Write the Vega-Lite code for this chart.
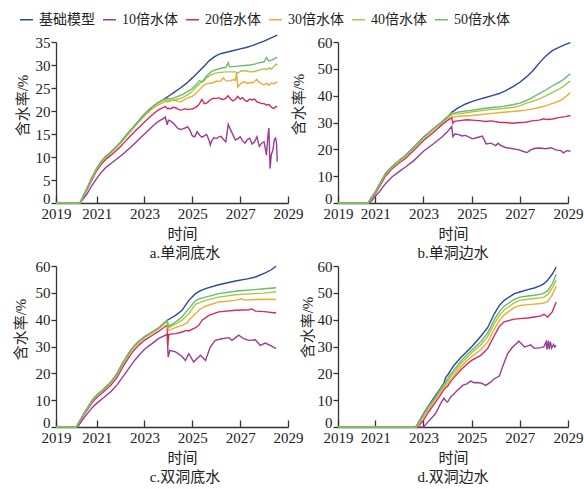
{
"$schema": "https://vega.github.io/schema/vega-lite/v6.json",
"autosize": {"type": "pad"},
"padding": {"left": 12, "top": 12, "right": 5, "bottom": 5},
"background": "white",
"config": {
  "view": {"stroke": null},
  "font": "Liberation Serif, Noto Sans CJK SC",
  "axis": {"grid": false, "domainColor": "#333", "domainWidth": 1.3, "tickColor": "#333", "tickWidth": 1.3, "labelFont": "Liberation Serif, Noto Sans CJK SC", "labelFontSize": 15, "labelColor": "#222", "titleFont": "Liberation Serif, Noto Sans CJK SC", "titleFontSize": 15, "titleFontWeight": "normal", "titleColor": "#222"},
  "axisX": {"tickSize": -7, "labelPadding": 10, "titlePadding": 5, "labelFlush": false},
  "axisY": {"tickSize": 5, "labelPadding": 1},
  "title": {"font": "Liberation Serif, Noto Sans CJK SC", "fontSize": 15, "fontWeight": "normal", "orient": "bottom", "frame": "group", "anchor": "middle", "offset": 5, "color": "#222"},
  "legend": {"symbolType": "stroke", "symbolSize": 170, "symbolStrokeWidth": 1.5, "labelFont": "Liberation Serif, Noto Sans CJK SC", "labelFontSize": 14, "labelOffset": 5, "columnPadding": 4, "labelColor": "#222"}
},
"datasets": {
"a": [
{"t":2019.3,"基础模型":0,"10倍水体":0,"20倍水体":0,"30倍水体":0,"40倍水体":0,"50倍水体":0},
{"t":2020.3,"基础模型":0,"10倍水体":0,"20倍水体":0,"30倍水体":0,"40倍水体":0,"50倍水体":0},
{"t":2020.6,"基础模型":3.2,"10倍水体":2.0,"20倍水体":2.9,"30倍水体":3.1,"40倍水体":3.2,"50倍水体":3.2},
{"t":2020.8,"基础模型":5.5,"10倍水体":3.8,"20倍水体":5.0,"30倍水体":5.3,"40倍水体":5.5,"50倍水体":5.5},
{"t":2021.0,"基础模型":7.5,"10倍水体":5.3,"20倍水体":7.0,"30倍水体":7.3,"40倍水体":7.5,"50倍水体":7.5},
{"t":2021.2,"基础模型":9.1,"10倍水体":6.7,"20倍水体":8.5,"30倍水体":8.9,"40倍水体":9.1,"50倍水体":9.1},
{"t":2021.4,"基础模型":10.2,"10倍水体":7.8,"20倍水体":9.6,"30倍水体":10.0,"40倍水体":10.2,"50倍水体":10.2},
{"t":2021.6,"基础模型":11.1,"10倍水体":8.6,"20倍水体":10.4,"30倍水体":10.9,"40倍水体":11.1,"50倍水体":11.1},
{"t":2021.8,"基础模型":12.1,"10倍水体":9.4,"20倍水体":11.3,"30倍水体":11.9,"40倍水体":12.1,"50倍水体":12.1},
{"t":2022.0,"基础模型":13.2,"10倍水体":10.2,"20倍水体":12.3,"30倍水体":13.0,"40倍水体":13.2,"50倍水体":13.2},
{"t":2022.2,"基础模型":14.5,"10倍水体":11.1,"20倍水体":13.4,"30倍水体":14.2,"40倍水体":14.4,"50倍水体":14.5},
{"t":2022.4,"基础模型":15.7,"10倍水体":12.0,"20倍水体":14.5,"30倍水体":15.4,"40倍水体":15.6,"50倍水体":15.7},
{"t":2022.6,"基础模型":16.9,"10倍水体":13.0,"20倍水体":15.6,"30倍水体":16.6,"40倍水体":16.8,"50倍水体":16.9},
{"t":2022.8,"基础模型":18.1,"10倍水体":14.0,"20倍水体":16.6,"30倍水体":17.8,"40倍水体":18.0,"50倍水体":18.1},
{"t":2023.0,"基础模型":19.3,"10倍水体":15.0,"20倍水体":17.6,"30倍水体":18.9,"40倍水体":19.2,"50倍水体":19.3},
{"t":2023.2,"基础模型":20.3,"10倍水体":16.0,"20倍水体":18.6,"30倍水体":19.9,"40倍水体":20.2,"50倍水体":20.3},
{"t":2023.4,"基础模型":21.2,"10倍水体":17.0,"20倍水体":19.5,"30倍水体":20.8,"40倍水体":21.1,"50倍水体":21.2},
{"t":2023.6,"基础模型":21.9,"10倍水体":17.8,"20倍水体":20.3,"30倍水体":21.4,"40倍水体":21.8,"50倍水体":21.9},
{"t":2023.8,"基础模型":22.5,"10倍水体":18.4,"20倍水体":20.8,"30倍水体":21.9,"40倍水体":22.3,"50倍水体":22.5},
{"t":2023.87,"基础模型":22.8,"10倍水体":18.7,"20倍水体":21.0,"30倍水体":22.0,"40倍水体":22.4,"50倍水体":22.6},
{"t":2023.95,"10倍水体":17.0,"20倍水体":20.5},
{"t":2024.0,"基础模型":23.2,"10倍水体":18.0,"20倍水体":20.6,"30倍水体":22.0,"40倍水体":22.4,"50倍水体":22.7},
{"t":2024.1,"10倍水体":17.8,"20倍水体":20.5,"30倍水体":22.2},
{"t":2024.2,"10倍水体":17.4,"20倍水体":20.8,"30倍水体":22.5,"40倍水体":22.3,"50倍水体":22.8},
{"t":2024.25,"基础模型":24.1},
{"t":2024.3,"10倍水体":16.8,"20倍水体":20.7,"30倍水体":22.3},
{"t":2024.4,"10倍水体":16.2,"20倍水体":20.4,"30倍水体":22.1,"40倍水体":22.6,"50倍水体":23.2},
{"t":2024.5,"基础模型":25.0,"10倍水体":16.0,"20倍水体":20.2,"30倍水体":22.0},
{"t":2024.6,"10倍水体":16.1,"20倍水体":20.3,"30倍水体":22.2,"40倍水体":22.9,"50倍水体":23.6},
{"t":2024.7,"10倍水体":16.3,"20倍水体":20.5,"30倍水体":22.6},
{"t":2024.75,"基础模型":26.0},
{"t":2024.8,"10倍水体":16.6,"20倍水体":20.3,"30倍水体":22.8,"40倍水体":23.5,"50倍水体":24.2},
{"t":2024.9,"10倍水体":15.8,"20倍水体":20.4,"30倍水体":23.0},
{"t":2025.0,"基础模型":27.2,"10倍水体":14.6,"20倍水体":20.4,"30倍水体":23.2,"40倍水体":24.3,"50倍水体":24.9},
{"t":2025.1,"10倍水体":14.4,"20倍水体":20.7,"30倍水体":23.6},
{"t":2025.2,"10倍水体":15.5,"20倍水体":21.0,"30倍水体":24.2,"40倍水体":25.4,"50倍水体":25.9},
{"t":2025.25,"基础模型":28.5},
{"t":2025.3,"10倍水体":14.8,"20倍水体":21.6,"30倍水体":24.6,"50倍水体":26.6},
{"t":2025.4,"10倍水体":14.3,"20倍水体":22.5,"30倍水体":25.2,"40倍水体":26.4,"50倍水体":26.3},
{"t":2025.5,"基础模型":29.8,"10倍水体":14.6,"20倍水体":21.6,"30倍水体":25.7,"40倍水体":26.6},
{"t":2025.6,"10倍水体":14.9,"20倍水体":21.7,"30倍水体":25.9,"40倍水体":27.2,"50倍水体":27.6},
{"t":2025.7,"基础模型":30.9,"10倍水体":13.6,"20倍水体":22.2,"30倍水体":26.0},
{"t":2025.75,"10倍水体":12.6},
{"t":2025.8,"10倍水体":13.4,"20倍水体":22.6,"30倍水体":26.1,"40倍水体":27.9,"50倍水体":28.6},
{"t":2025.9,"基础模型":31.7,"10倍水体":14.2,"20倍水体":22.8,"30倍水体":26.2},
{"t":2026.0,"10倍水体":14.0,"20倍水体":22.7,"30倍水体":26.5,"40倍水体":28.3,"50倍水体":29.0},
{"t":2026.1,"基础模型":32.3,"10倍水体":14.3,"20倍水体":22.9,"30倍水体":26.4},
{"t":2026.2,"10倍水体":14.5,"20倍水体":22.6,"30倍水体":26.6,"40倍水体":28.4,"50倍水体":29.3},
{"t":2026.3,"基础模型":32.6,"10倍水体":13.8,"20倍水体":22.5,"30倍水体":27.2},
{"t":2026.4,"10倍水体":13.3,"20倍水体":22.8,"30倍水体":26.6,"40倍水体":28.5,"50倍水体":29.5},
{"t":2026.5,"10倍水体":17.1,"20倍水体":23.3,"30倍水体":26.5,"50倍水体":30.5},
{"t":2026.55,"50倍水体":29.6},
{"t":2026.6,"基础模型":33.0,"10倍水体":15.9,"20倍水体":22.6,"30倍水体":26.6,"40倍水体":28.5},
{"t":2026.7,"10倍水体":14.8,"20倍水体":22.2,"30倍水体":26.8},
{"t":2026.8,"10倍水体":13.7,"20倍水体":22.5,"30倍水体":26.7,"40倍水体":28.5,"50倍水体":29.7},
{"t":2026.85,"30倍水体":28.3},
{"t":2026.9,"10倍水体":14.0,"20倍水体":23.2,"30倍水体":25.2,"40倍水体":28.2},
{"t":2027.0,"基础模型":33.5,"10倍水体":14.4,"20倍水体":22.6,"30倍水体":25.8,"40倍水体":28.6,"50倍水体":29.8},
{"t":2027.1,"10倍水体":13.5,"20倍水体":22.9,"30倍水体":26.2},
{"t":2027.2,"10倍水体":13.0,"20倍水体":22.3,"30倍水体":26.3,"40倍水体":28.8,"50倍水体":29.9},
{"t":2027.25,"基础模型":33.8},
{"t":2027.3,"10倍水体":13.8,"20倍水体":22.1,"30倍水体":26.0},
{"t":2027.4,"10倍水体":14.1,"20倍水体":22.6,"30倍水体":26.2,"40倍水体":28.5,"50倍水体":30.0},
{"t":2027.5,"基础模型":34.2,"10倍水体":12.8,"20倍水体":22.4,"30倍水体":26.1},
{"t":2027.6,"10倍水体":13.3,"20倍水体":22.6,"30倍水体":26.4,"40倍水体":28.6,"50倍水体":30.2},
{"t":2027.7,"10倍水体":14.4,"20倍水体":22.0,"30倍水体":26.9},
{"t":2027.75,"基础模型":34.7},
{"t":2027.8,"10倍水体":12.3,"20倍水体":21.8,"30倍水体":26.2,"40倍水体":28.9,"50倍水体":30.5},
{"t":2027.9,"10倍水体":13.0,"20倍水体":21.6,"30倍水体":25.9},
{"t":2028.0,"基础模型":35.2,"10倍水体":13.3,"20倍水体":21.6,"30倍水体":25.7,"40倍水体":29.2,"50倍水体":30.7},
{"t":2028.1,"10倍水体":10.4,"20倍水体":21.3,"30倍水体":26.0,"40倍水体":29.0,"50倍水体":31.6},
{"t":2028.15,"10倍水体":14.0},
{"t":2028.2,"10倍水体":16.3,"20倍水体":21.4,"30倍水体":25.6,"40倍水体":29.4,"50倍水体":30.9},
{"t":2028.25,"基础模型":35.8,"10倍水体":7.5},
{"t":2028.3,"10倍水体":10.5,"20倍水体":20.9,"30倍水体":26.1,"40倍水体":29.1},
{"t":2028.35,"50倍水体":31.1},
{"t":2028.37,"10倍水体":11.5},
{"t":2028.4,"20倍水体":20.5,"30倍水体":25.9,"40倍水体":29.6},
{"t":2028.43,"10倍水体":13.8},
{"t":2028.48,"10倍水体":14.1},
{"t":2028.5,"20倍水体":21.0,"30倍水体":26.2,"40倍水体":30.2},
{"t":2028.52,"10倍水体":13.0},
{"t":2028.55,"基础模型":36.5,"10倍水体":9.0,"20倍水体":20.9,"30倍水体":26.3,"40倍水体":29.9,"50倍水体":31.7}
],
"b": [
{"t":2019.45,"基础模型":0,"10倍水体":0,"20倍水体":0,"30倍水体":0,"40倍水体":0,"50倍水体":0},
{"t":2020.7,"基础模型":0,"10倍水体":0,"20倍水体":0,"30倍水体":0,"40倍水体":0,"50倍水体":0},
{"t":2020.8,"基础模型":1.4,"10倍水体":0.3,"20倍水体":1.0,"30倍水体":1.3,"40倍水体":1.4,"50倍水体":1.4},
{"t":2021.0,"基础模型":4.1,"10倍水体":2.5,"20倍水体":3.5,"30倍水体":4.0,"40倍水体":4.1,"50倍水体":4.1},
{"t":2021.2,"基础模型":7.4,"10倍水体":4.5,"20倍水体":6.6,"30倍水体":7.2,"40倍水体":7.4,"50倍水体":7.4},
{"t":2021.42,"基础模型":10.9,"10倍水体":7.2,"20倍水体":10.0,"30倍水体":10.6,"40倍水体":10.9,"50倍水体":10.9},
{"t":2021.7,"基础模型":13.6,"10倍水体":9.8,"20倍水体":12.8,"30倍水体":13.3,"40倍水体":13.6,"50倍水体":13.6},
{"t":2022.0,"基础模型":15.9,"10倍水体":11.8,"20倍水体":15.0,"30倍水体":15.5,"40倍水体":15.9,"50倍水体":15.9},
{"t":2022.25,"基础模型":17.7,"10倍水体":13.4,"20倍水体":16.6,"30倍水体":17.3,"40倍水体":17.6,"50倍水体":17.7},
{"t":2022.6,"基础模型":20.8,"10倍水体":15.8,"20倍水体":19.7,"30倍水体":20.4,"40倍水体":20.7,"50倍水体":20.8},
{"t":2023.0,"基础模型":24.5,"10倍水体":19.3,"20倍水体":23.3,"30倍水体":24.0,"40倍水体":24.4,"50倍水体":24.5},
{"t":2023.4,"基础模型":27.6,"10倍水体":22.0,"20倍水体":26.2,"30倍水体":27.1,"40倍水体":27.5,"50倍水体":27.6},
{"t":2023.78,"基础模型":30.4,"10倍水体":24.7,"20倍水体":29.3,"30倍水体":30.0,"40倍水体":30.3,"50倍水体":30.4},
{"t":2024.0,"基础模型":32.1,"10倍水体":26.6,"20倍水体":30.8,"30倍水体":31.6,"40倍水体":32.0,"50倍水体":32.1},
{"t":2024.17,"基础模型":33.8,"10倍水体":28.5,"20倍水体":31.8,"30倍水体":33.0,"40倍水体":33.4,"50倍水体":33.5},
{"t":2024.22,"10倍水体":24.7,"20倍水体":29.7,"30倍水体":31.8},
{"t":2024.28,"20倍水体":30.4},
{"t":2024.3,"基础模型":34.6,"10倍水体":25.7,"30倍水体":32.1,"40倍水体":33.1,"50倍水体":33.6},
{"t":2024.47,"基础模型":35.6,"10倍水体":25.5,"40倍水体":33.2,"50倍水体":33.9},
{"t":2024.5,"20倍水体":30.7},
{"t":2024.6,"10倍水体":25.0,"30倍水体":32.4},
{"t":2024.75,"基础模型":36.9,"10倍水体":25.2},
{"t":2024.8,"20倍水体":31.0},
{"t":2025.03,"基础模型":37.9,"10倍水体":23.9,"20倍水体":30.9,"30倍水体":32.6,"40倍水体":34.0,"50倍水体":34.6},
{"t":2025.2,"10倍水体":24.3},
{"t":2025.3,"基础模型":38.6,"20倍水体":30.7},
{"t":2025.44,"10倍水体":24.9},
{"t":2025.5,"30倍水体":33.1,"40倍水体":34.5,"50倍水体":35.2},
{"t":2025.52,"10倍水体":23.6},
{"t":2025.58,"基础模型":39.3,"20倍水体":30.4},
{"t":2025.6,"10倍水体":22.0},
{"t":2025.8,"10倍水体":22.3,"20倍水体":30.6},
{"t":2025.85,"基础模型":40.0},
{"t":2025.86,"30倍水体":33.4,"40倍水体":34.9,"50倍水体":35.6},
{"t":2026.0,"10倍水体":21.4},
{"t":2026.1,"10倍水体":22.3},
{"t":2026.14,"基础模型":40.8,"20倍水体":30.1},
{"t":2026.2,"10倍水体":21.5},
{"t":2026.3,"30倍水体":33.8,"40倍水体":35.2,"50倍水体":36.0},
{"t":2026.4,"基础模型":41.8,"10倍水体":20.7,"20倍水体":30.0},
{"t":2026.6,"10倍水体":20.4},
{"t":2026.7,"基础模型":43.3,"20倍水体":29.7,"30倍水体":34.1,"40倍水体":35.6,"50倍水体":36.6},
{"t":2026.9,"20倍水体":29.9},
{"t":2026.97,"10倍水体":19.8},
{"t":2027.0,"基础模型":45.0,"30倍水体":34.4,"40倍水体":36.2,"50倍水体":37.2},
{"t":2027.15,"10倍水体":19.2},
{"t":2027.25,"基础模型":46.8,"20倍水体":30.1,"30倍水体":34.6,"40倍水体":37.1,"50倍水体":38.1},
{"t":2027.3,"10倍水体":18.8},
{"t":2027.45,"10倍水体":19.8},
{"t":2027.5,"基础模型":48.9,"20倍水体":30.6,"30倍水体":35.0,"40倍水体":37.8,"50倍水体":39.2},
{"t":2027.6,"10倍水体":20.3},
{"t":2027.67,"基础模型":50.7},
{"t":2027.8,"10倍水体":20.5,"20倍水体":30.9,"30倍水体":35.6,"40倍水体":38.7,"50倍水体":40.8},
{"t":2027.85,"基础模型":52.6},
{"t":2028.0,"20倍水体":31.4},
{"t":2028.08,"基础模型":54.8,"10倍水体":20.2},
{"t":2028.1,"20倍水体":31.1,"30倍水体":36.3,"40倍水体":40.0,"50倍水体":42.2},
{"t":2028.3,"10倍水体":20.6},
{"t":2028.35,"基础模型":56.8},
{"t":2028.36,"20倍水体":31.3,"30倍水体":37.1,"40倍水体":41.2,"50倍水体":43.7},
{"t":2028.5,"10倍水体":19.8},
{"t":2028.6,"20倍水体":31.8,"30倍水体":37.9,"40倍水体":42.3,"50倍水体":44.9},
{"t":2028.64,"基础模型":58.1},
{"t":2028.7,"10倍水体":19.5},
{"t":2028.78,"30倍水体":38.7,"40倍水体":43.3,"50倍水体":45.8},
{"t":2028.81,"10倍水体":18.7},
{"t":2028.9,"基础模型":59.1,"20倍水体":32.2},
{"t":2028.95,"10倍水体":19.5,"30倍水体":40.0},
{"t":2029.1,"基础模型":59.8,"10倍水体":19.3,"20倍水体":32.6,"30倍水体":41.2,"40倍水体":45.5,"50倍水体":48.2}
],
"c": [
{"t":2019.3,"基础模型":0,"10倍水体":0,"20倍水体":0,"30倍水体":0,"40倍水体":0,"50倍水体":0},
{"t":2020.15,"基础模型":0,"10倍水体":0,"20倍水体":0,"30倍水体":0,"40倍水体":0,"50倍水体":0},
{"t":2020.2,"基础模型":0.8,"10倍水体":0,"20倍水体":0.6,"30倍水体":0.7,"40倍水体":0.8,"50倍水体":0.8},
{"t":2020.5,"基础模型":5.5,"10倍水体":3.8,"20倍水体":5.0,"30倍水体":5.3,"40倍水体":5.5,"50倍水体":5.5},
{"t":2020.82,"基础模型":10.0,"10倍水体":7.3,"20倍水体":9.2,"30倍水体":9.7,"40倍水体":10.0,"50倍水体":10.0},
{"t":2021.0,"基础模型":11.8,"10倍水体":8.8,"20倍水体":10.9,"30倍水体":11.5,"40倍水体":11.8,"50倍水体":11.8},
{"t":2021.3,"基础模型":14.2,"10倍水体":11.0,"20倍水体":13.2,"30倍水体":13.9,"40倍水体":14.2,"50倍水体":14.2},
{"t":2021.6,"基础模型":16.8,"10倍水体":13.2,"20倍水体":15.6,"30倍水体":16.4,"40倍水体":16.8,"50倍水体":16.8},
{"t":2021.86,"基础模型":20.0,"10倍水体":15.8,"20倍水体":18.6,"30倍水体":19.5,"40倍水体":20.0,"50倍水体":20.0},
{"t":2022.1,"基础模型":24.0,"10倍水体":18.8,"20倍水体":22.5,"30倍水体":23.5,"40倍水体":24.0,"50倍水体":24.0},
{"t":2022.42,"基础模型":28.5,"10倍水体":22.8,"20倍水体":27.0,"30倍水体":28.0,"40倍水体":28.5,"50倍水体":28.5},
{"t":2022.6,"基础模型":30.5,"10倍水体":25.0,"20倍水体":29.0,"30倍水体":30.0,"40倍水体":30.5,"50倍水体":30.5},
{"t":2022.8,"基础模型":32.2,"10倍水体":27.0,"20倍水体":30.8,"30倍水体":31.8,"40倍水体":32.2,"50倍水体":32.2},
{"t":2023.0,"基础模型":33.6,"10倍水体":29.0,"20倍水体":32.3,"30倍水体":33.2,"40倍水体":33.6,"50倍水体":33.6},
{"t":2023.3,"基础模型":35.3,"10倍水体":31.0,"20倍水体":34.0,"30倍水体":34.9,"40倍水体":35.3,"50倍水体":35.3},
{"t":2023.6,"基础模型":37.0,"10倍水体":33.0,"20倍水体":35.7,"30倍水体":36.6,"40倍水体":37.0,"50倍水体":37.0},
{"t":2023.95,"基础模型":39.8,"10倍水体":34.5,"20倍水体":38.0,"30倍水体":39.3,"40倍水体":39.6,"50倍水体":39.8},
{"t":2023.97,"20倍水体":30.4},
{"t":2023.99,"10倍水体":26.1},
{"t":2024.0,"30倍水体":36.0,"40倍水体":37.0,"50倍水体":37.5},
{"t":2024.02,"20倍水体":34.5},
{"t":2024.06,"10倍水体":28.6},
{"t":2024.3,"基础模型":41.6,"10倍水体":28.0,"20倍水体":34.8,"30倍水体":37.0,"40倍水体":38.3,"50倍水体":39.1},
{"t":2024.57,"基础模型":43.5,"10倍水体":26.3,"20倍水体":35.4,"30倍水体":37.9,"40倍水体":39.8,"50倍水体":41.0},
{"t":2024.71,"10倍水体":24.8},
{"t":2024.75,"20倍水体":36.0},
{"t":2024.78,"30倍水体":38.8},
{"t":2024.85,"基础模型":47.2,"10倍水体":27.3,"20倍水体":35.8,"30倍水体":39.8,"40倍水体":42.2,"50倍水体":44.1},
{"t":2025.06,"10倍水体":24.2},
{"t":2025.13,"基础模型":49.7,"20倍水体":37.0,"30倍水体":42.2,"40倍水体":45.7,"50倍水体":47.0},
{"t":2025.2,"10倍水体":25.5},
{"t":2025.27,"20倍水体":37.9},
{"t":2025.3,"30倍水体":43.8,"50倍水体":47.8},
{"t":2025.34,"10倍水体":26.7},
{"t":2025.35,"基础模型":50.8},
{"t":2025.41,"20倍水体":39.8},
{"t":2025.55,"基础模型":51.6,"10倍水体":24.8,"30倍水体":45.0,"40倍水体":47.2,"50倍水体":48.4},
{"t":2025.69,"20倍水体":41.6},
{"t":2025.75,"10倍水体":29.8},
{"t":2025.96,"10倍水体":32.3},
{"t":2026.1,"基础模型":53.0,"20倍水体":42.9,"30倍水体":46.6,"40倍水体":48.4,"50倍水体":49.7},
{"t":2026.24,"10倍水体":32.9},
{"t":2026.52,"10倍水体":33.3},
{"t":2026.66,"10倍水体":32.3},
{"t":2026.8,"基础模型":54.4,"20倍水体":43.5,"30倍水体":47.2,"40倍水体":49.3,"50倍水体":50.6},
{"t":2026.94,"10倍水体":34.2},
{"t":2027.0,"50倍水体":50.8},
{"t":2027.06,"30倍水体":47.8},
{"t":2027.15,"10倍水体":32.9,"30倍水体":47.3},
{"t":2027.3,"基础模型":55.2},
{"t":2027.36,"10倍水体":32.3},
{"t":2027.37,"20倍水体":43.7},
{"t":2027.5,"20倍水体":44.0},
{"t":2027.6,"40倍水体":49.7,"50倍水体":51.2},
{"t":2027.63,"10倍水体":32.5},
{"t":2027.64,"基础模型":55.9,"20倍水体":43.2,"30倍水体":47.5},
{"t":2027.84,"10倍水体":30.4},
{"t":2028.0,"20倍水体":43.0,"30倍水体":47.6,"40倍水体":49.9,"50倍水体":51.5},
{"t":2028.05,"基础模型":57.4,"10倍水体":31.3},
{"t":2028.3,"基础模型":58.6,"10倍水体":30.2},
{"t":2028.5,"基础模型":59.9,"10倍水体":29.2,"20倍水体":42.5,"30倍水体":47.5,"40倍水体":50.4,"50倍水体":51.9}
],
"d": [
{"t":2019.45,"基础模型":0,"10倍水体":0,"20倍水体":0,"30倍水体":0,"40倍水体":0,"50倍水体":0},
{"t":2022.67,"基础模型":0,"10倍水体":0,"20倍水体":0,"30倍水体":0,"40倍水体":0,"50倍水体":0},
{"t":2022.75,"基础模型":1.0,"20倍水体":0,"30倍水体":0.3,"40倍水体":0.6,"50倍水体":0.9},
{"t":2023.0,"基础模型":5.0,"10倍水体":0,"20倍水体":2.5,"30倍水体":3.7,"40倍水体":4.3,"50倍水体":4.7},
{"t":2023.2,"基础模型":7.8,"10倍水体":2.0,"20倍水体":5.5,"30倍水体":6.6,"40倍水体":7.2,"50倍水体":7.5},
{"t":2023.5,"基础模型":11.8,"10倍水体":5.0,"20倍水体":9.3,"30倍水体":10.2,"40倍水体":10.8,"50倍水体":11.2},
{"t":2023.71,"基础模型":14.5,"10倍水体":8.7,"20倍水体":12.0,"30倍水体":13.0,"40倍水体":13.7,"50倍水体":14.1},
{"t":2023.85,"基础模型":16.3,"10倍水体":10.8,"20倍水体":14.0,"30倍水体":14.8,"40倍水体":15.4,"50倍水体":15.9},
{"t":2023.92,"基础模型":18.5,"10倍水体":9.8,"20倍水体":14.6,"30倍水体":15.5,"40倍水体":16.1,"50倍水体":16.8},
{"t":2024.0,"基础模型":19.3,"10倍水体":9.3,"20倍水体":15.2,"30倍水体":16.1,"40倍水体":17.1,"50倍水体":18.0},
{"t":2024.13,"基础模型":21.2,"10倍水体":11.2,"20倍水体":17.0,"30倍水体":17.6,"40倍水体":18.8,"50倍水体":19.7},
{"t":2024.27,"基础模型":23.0,"10倍水体":12.4,"20倍水体":18.5,"30倍水体":19.2,"40倍水体":20.3,"50倍水体":21.3},
{"t":2024.41,"10倍水体":13.7},
{"t":2024.55,"基础模型":25.9,"10倍水体":14.8,"20倍水体":21.2,"30倍水体":22.4,"40倍水体":23.5,"50倍水体":24.5},
{"t":2024.62,"10倍水体":15.5},
{"t":2024.8,"基础模型":28.1,"10倍水体":16.1,"20倍水体":23.4,"30倍水体":24.7,"40倍水体":25.9,"50倍水体":26.9},
{"t":2024.96,"10倍水体":17.1},
{"t":2025.0,"基础模型":29.9,"20倍水体":24.8,"30倍水体":26.3,"40倍水体":27.7,"50倍水体":28.6},
{"t":2025.1,"10倍水体":16.5},
{"t":2025.2,"10倍水体":16.6},
{"t":2025.38,"基础模型":33.8,"10倍水体":16.4,"20倍水体":26.7,"30倍水体":28.8,"40倍水体":30.6,"50倍水体":31.8},
{"t":2025.59,"10倍水体":15.5},
{"t":2025.66,"基础模型":37.0,"20倍水体":29.2,"30倍水体":31.6,"40倍水体":33.6,"50倍水体":35.0},
{"t":2025.8,"10倍水体":16.8},
{"t":2025.94,"基础模型":42.2,"10倍水体":18.0,"20倍水体":34.0,"30倍水体":36.5,"40倍水体":38.5,"50倍水体":40.0},
{"t":2026.15,"基础模型":45.3,"10倍水体":19.0,"20倍水体":37.5,"30倍水体":39.6,"40倍水体":41.5,"50倍水体":43.0},
{"t":2026.28,"10倍水体":22.4},
{"t":2026.35,"基础模型":47.2,"20倍水体":39.2,"30倍水体":41.8,"40倍水体":43.6,"50倍水体":45.0},
{"t":2026.49,"10倍水体":27.3},
{"t":2026.7,"10倍水体":29.8},
{"t":2026.77,"基础模型":49.7,"20倍水体":40.2,"30倍水体":44.5,"40倍水体":46.3,"50倍水体":47.6},
{"t":2026.91,"10倍水体":31.5},
{"t":2026.95,"10倍水体":32.0},
{"t":2027.0,"基础模型":50.3,"20倍水体":40.4,"30倍水体":45.3,"40倍水体":47.2,"50倍水体":48.4},
{"t":2027.05,"10倍水体":31.2},
{"t":2027.19,"10倍水体":29.8},
{"t":2027.33,"基础模型":51.2,"10倍水体":30.2,"20倍水体":40.6,"30倍水体":45.6,"40倍水体":47.6,"50倍水体":48.8},
{"t":2027.45,"10倍水体":30.6},
{"t":2027.6,"基础模型":51.8,"10倍水体":29.3,"20倍水体":41.0,"30倍水体":45.8,"40倍水体":47.9,"50倍水体":49.1},
{"t":2027.88,"基础模型":52.8,"10倍水体":29.6,"20倍水体":41.4,"30倍水体":46.0,"40倍水体":48.2,"50倍水体":49.5},
{"t":2028.0,"基础模型":53.4,"10倍水体":29.9,"20倍水体":42.0,"30倍水体":46.2,"40倍水体":48.4,"50倍水体":49.9},
{"t":2028.09,"10倍水体":31.8},
{"t":2028.13,"10倍水体":28.9},
{"t":2028.16,"基础模型":54.8,"20倍水体":41.0,"30倍水体":46.8,"40倍水体":49.3,"50倍水体":50.8},
{"t":2028.18,"10倍水体":32.2},
{"t":2028.22,"10倍水体":29.0},
{"t":2028.27,"10倍水体":31.8},
{"t":2028.32,"10倍水体":29.4},
{"t":2028.35,"基础模型":57.0,"20倍水体":43.0,"30倍水体":49.3,"40倍水体":51.8,"50倍水体":53.3},
{"t":2028.4,"10倍水体":30.8},
{"t":2028.45,"10倍水体":29.8},
{"t":2028.51,"基础模型":59.6,"10倍水体":30.4,"20倍水体":46.6,"30倍水体":52.4,"40倍水体":54.7,"50倍水体":56.9}
]
},
"columns": 2,
"spacing": {"row": 63, "column": 50},
"bounds": "flush",
"resolve": {"scale": {"color": "shared"}},
"concat": [
{
  "width": 232, "height": 161,
  "title": {"text": "a.单洞底水", "dx": 13},
  "data": {"name": "a"},
  "transform": [{"fold": ["基础模型","10倍水体","20倍水体","30倍水体","40倍水体","50倍水体"], "as": ["s","v"]}, {"filter": "isValid(datum.v)"}],
  "mark": {"type": "line", "strokeWidth": 1.4},
  "encoding": {
    "x": {"field": "t", "type": "quantitative", "scale": {"domain": [2019.3, 2029], "nice": false, "zero": false}, "axis": {"title": "时间", "values": [2019.3, 2021, 2023, 2025, 2027, 2029], "format": "d", "titleX": 126}},
    "y": {"field": "v", "type": "quantitative", "scale": {"domain": [0, 35], "nice": false}, "axis": {"title": "含水率/%", "values": [0,5,10,15,20,25,30,35], "titleX": -34, "titleY": 63, "titleBaseline": "middle", "labelOffset": {"condition": {"test": "datum.value === 0", "value": -5}, "value": 0}}},
    "color": {"field": "s", "type": "nominal", "scale": {"domain": ["基础模型","10倍水体","20倍水体","30倍水体","40倍水体","50倍水体"], "range": ["#2c4a9a","#9a3c93","#d42a5c","#f0aa35","#a8ca42","#6bba72"]}, "legend": {"orient": "none", "legendX": -37, "legendY": -30, "direction": "horizontal", "title": null}}
  }
},
{
  "width": 230, "height": 161,
  "title": {"text": "b.单洞边水"},
  "data": {"name": "b"},
  "transform": [{"fold": ["基础模型","10倍水体","20倍水体","30倍水体","40倍水体","50倍水体"], "as": ["s","v"]}, {"filter": "isValid(datum.v)"}],
  "mark": {"type": "line", "strokeWidth": 1.4},
  "encoding": {
    "x": {"field": "t", "type": "quantitative", "scale": {"domain": [2019.45, 2029], "nice": false, "zero": false}, "axis": {"title": "时间", "values": [2019.45, 2021, 2023, 2025, 2027, 2029], "format": "d"}},
    "y": {"field": "v", "type": "quantitative", "scale": {"domain": [0, 60], "nice": false}, "axis": {"title": "含水率/%", "values": [0,10,20,30,40,50,60], "titleX": -40, "titleY": 62, "titleBaseline": "middle", "labelOffset": {"condition": {"test": "datum.value === 0", "value": -5}, "value": 0}}},
    "color": {"field": "s", "type": "nominal", "scale": {"domain": ["基础模型","10倍水体","20倍水体","30倍水体","40倍水体","50倍水体"], "range": ["#2c4a9a","#9a3c93","#d42a5c","#f0aa35","#a8ca42","#6bba72"]}, "legend": {"orient": "none", "legendX": -37, "legendY": -30, "direction": "horizontal", "title": null}}
  }
},
{
  "width": 232, "height": 161,
  "title": {"text": "c.双洞底水", "dx": 13},
  "data": {"name": "c"},
  "transform": [{"fold": ["基础模型","10倍水体","20倍水体","30倍水体","40倍水体","50倍水体"], "as": ["s","v"]}, {"filter": "isValid(datum.v)"}],
  "mark": {"type": "line", "strokeWidth": 1.4},
  "encoding": {
    "x": {"field": "t", "type": "quantitative", "scale": {"domain": [2019.3, 2029], "nice": false, "zero": false}, "axis": {"title": "时间", "values": [2019.3, 2021, 2023, 2025, 2027, 2029], "format": "d", "titleX": 126}},
    "y": {"field": "v", "type": "quantitative", "scale": {"domain": [0, 60], "nice": false}, "axis": {"title": "含水率/%", "values": [0,10,20,30,40,50,60], "titleX": -36, "titleY": 63, "titleBaseline": "middle", "labelOffset": {"condition": {"test": "datum.value === 0", "value": -5}, "value": 0}}},
    "color": {"field": "s", "type": "nominal", "scale": {"domain": ["基础模型","10倍水体","20倍水体","30倍水体","40倍水体","50倍水体"], "range": ["#2c4a9a","#9a3c93","#d42a5c","#f0aa35","#a8ca42","#6bba72"]}, "legend": {"orient": "none", "legendX": -37, "legendY": -30, "direction": "horizontal", "title": null}}
  }
},
{
  "width": 230, "height": 161,
  "title": {"text": "d.双洞边水"},
  "data": {"name": "d"},
  "transform": [{"fold": ["基础模型","10倍水体","20倍水体","30倍水体","40倍水体","50倍水体"], "as": ["s","v"]}, {"filter": "isValid(datum.v)"}],
  "mark": {"type": "line", "strokeWidth": 1.4},
  "encoding": {
    "x": {"field": "t", "type": "quantitative", "scale": {"domain": [2019.45, 2029], "nice": false, "zero": false}, "axis": {"title": "时间", "values": [2019.45, 2021, 2023, 2025, 2027, 2029], "format": "d"}},
    "y": {"field": "v", "type": "quantitative", "scale": {"domain": [0, 60], "nice": false}, "axis": {"title": "含水率/%", "values": [0,10,20,30,40,50,60], "titleX": -31, "titleY": 61, "titleBaseline": "middle", "labelOffset": {"condition": {"test": "datum.value === 0", "value": -5}, "value": 0}}},
    "color": {"field": "s", "type": "nominal", "scale": {"domain": ["基础模型","10倍水体","20倍水体","30倍水体","40倍水体","50倍水体"], "range": ["#2c4a9a","#9a3c93","#d42a5c","#f0aa35","#a8ca42","#6bba72"]}, "legend": {"orient": "none", "legendX": -37, "legendY": -30, "direction": "horizontal", "title": null}}
  }
}
]
}
